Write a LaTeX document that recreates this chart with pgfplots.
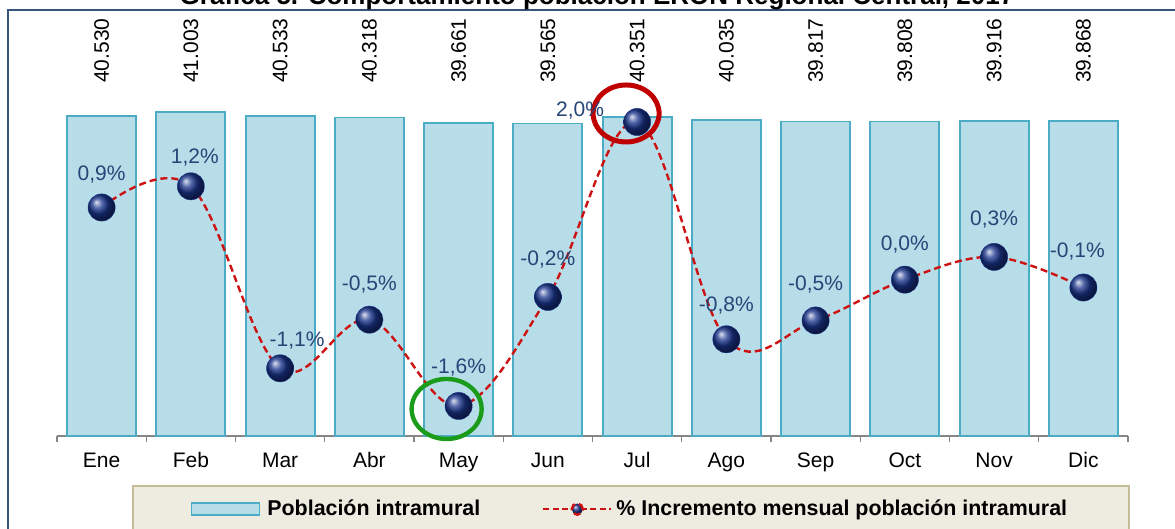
\documentclass[border=0pt]{standalone}
\usepackage{fontspec}
\setmainfont{Liberation Sans}
\usepackage{pgfplots}
\pgfplotsset{compat=1.18}
\usepackage{pgfplotstable}
\definecolor{barfill}{RGB}{183,221,232}
\definecolor{baredge}{RGB}{75,172,198}
\definecolor{linered}{RGB}{204,18,18}
\definecolor{circred}{RGB}{192,0,0}
\definecolor{circgreen}{RGB}{26,155,26}
\definecolor{ballc}{RGB}{26,52,140}
\definecolor{lblblue}{RGB}{38,70,120}
\definecolor{framec}{RGB}{56,84,120}
\definecolor{legfill}{RGB}{238,236,225}
\definecolor{legdraw}{RGB}{196,189,151}
\definecolor{axisgray}{RGB}{134,134,134}
\newcommand{\chartfont}{\fontsize{10.5}{12}\selectfont}

\pgfplotstableread{
x pop lab
0 40530 40.530
1 41003 41.003
2 40533 40.533
3 40318 40.318
4 39661 39.661
5 39565 39.565
6 40351 40.351
7 40035 40.035
8 39817 39.817
9 39808 39.808
10 39916 39.916
11 39868 39.868
}\poptable

\pgfplotstableread{
x pct lab dx dy
0 0.90 0,9\% 0 16.5
1 1.17 1,2\% 2 14.5
2 -1.15 -1,1\% 8.5 14
3 -0.53 -0,5\% 0 17.5
4 -1.63 -1,6\% 0 19
5 -0.24 -0,2\% 0 18.5
6 1.99 2,0\% -28.5 5.5
7 -0.78 -0,8\% 0 17
8 -0.54 -0,5\% 0 18
9 -0.02 0,0\% 0 17.5
10 0.27 0,3\% 0 18.5
11 -0.12 -0,1\% -3 18
}\pcttable

\begin{document}
\begin{tikzpicture}
\useasboundingbox (0,0) rectangle (587.5pt,264.5pt);
\fill[white] (0,0) rectangle (587.5pt,264.5pt);
\clip (0,0) rectangle (587.5pt,264.5pt);
% outer frame
\draw[framec, line width=1pt] (4pt,-5pt) -- (4pt,259.5pt) -- (600pt,259.5pt);
% title (cut off at top, as in the reference)
\node[anchor=base, inner sep=0pt, font=\fontsize{13}{15}\selectfont\bfseries] at (298.5pt,262.3pt)
  {Gráfica 5. Comportamiento población ERON Regional Central, 2017};

\begin{axis}[
  at={(28.5pt,46.5pt)}, anchor=south west,
  width=535.5pt, height=211pt, scale only axis,
  xmin=-0.5, xmax=11.5, ymin=0, ymax=53418,
  axis x line=bottom, axis y line=none,
  x axis line style={-, draw=axisgray, line width=0.7pt},
  xtick={0,...,11},
  xticklabels={Ene,Feb,Mar,Abr,May,Jun,Jul,Ago,Sep,Oct,Nov,Dic},
  major tick length=0pt,
  minor xtick={-0.5,0.5,...,11.5},
  minor tick length=2.8pt,
  xtick align=outside,
  minor tick style={draw=axisgray, line width=0.7pt},
  xticklabel style={font=\chartfont, text=black, text height=7.6pt, text depth=2.2pt, yshift=-4.5pt},
  clip=false,
]
\addplot[ybar, bar width=34.5pt, fill=barfill, draw=baredge, line width=0.9pt]
  table[x=x, y=pop] \poptable;
\addplot[draw=none, mark=none, nodes near coords, point meta=explicit symbolic,
  every node near coord/.append style={rotate=90, anchor=west, inner sep=0pt, font=\chartfont, text=black}]
  table[x=x, y expr=44650, meta=lab] \poptable;
\end{axis}

\begin{axis}[
  at={(28.5pt,46.5pt)}, anchor=south west,
  width=535.5pt, height=211pt, scale only axis,
  xmin=-0.5, xmax=11.5, ymin=-2.0128, ymax=3.3665,
  axis lines=none,
  clip=false,
  legend columns=2,
  legend cell align=left,
  legend style={at={(0.0700,-0.1161)}, anchor=north west,
    draw=legdraw, line width=0.8pt, fill=legfill,
    font=\fontsize{10.7}{12.5}\selectfont\bfseries, text=black,
    inner xsep=29pt, inner ysep=5pt,
    /tikz/every even column/.append style={column sep=29pt}},
]
\addlegendimage{legend image code/.code={\draw[fill=barfill, draw=baredge, line width=0.8pt] (0pt,-3pt) rectangle (34pt,3pt);}}
\addlegendentry{\hspace{1.5pt}Población intramural}
\addplot[linered, line width=1.2pt, dash pattern=on 3.5pt off 2pt, smooth, tension=0.6, mark=none,
  legend image code/.code={\draw[linered, line width=1.1pt, dash pattern=on 3pt off 1.7pt] (0pt,0pt) -- (34pt,0pt);
    \shade[ball color=ballc] (17pt,0pt) circle (2.8pt);}]
  table[x=x, y=pct] \pcttable;
\addlegendentry{\% Incremento mensual población intramural}
\addplot[ballc, only marks, mark=ball, mark size=6.8pt, mark options={solid, ball color=ballc, line width=0.2pt},
  visualization depends on={\thisrow{dx}\as\ldx},
  visualization depends on={\thisrow{dy}\as\ldy},
  nodes near coords, point meta=explicit symbolic,
  every node near coord/.append style={anchor=center, xshift=\ldx pt, yshift=\ldy pt, font=\chartfont, text=lblblue}]
  table[x=x, y=pct, meta=lab] \pcttable;
\draw[circred, line width=2.5pt] ([shift={(-5.5pt,4.25pt)}]axis cs:6,1.99) ellipse [x radius=16.5pt, y radius=14.25pt];
\draw[circgreen, line width=2.2pt] ([shift={(-6pt,-1.5pt)}]axis cs:4,-1.63) ellipse [x radius=17.5pt, y radius=15pt];
\end{axis}
\end{tikzpicture}
\end{document}
